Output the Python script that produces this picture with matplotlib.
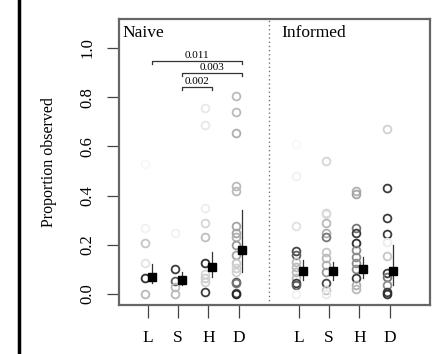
import matplotlib
matplotlib.use("Agg")
import matplotlib.pyplot as plt
from matplotlib.lines import Line2D

plt.rcParams['font.family'] = ['Liberation Serif', 'DejaVu Serif']

categories = ["L", "S", "H", "D"]
groups = ["Naive", "Informed"]

# observed proportions per individual (values) and their weights (drawn as grey darkness)
naive_vals = [
    [0.53, 0.27, 0.207, 0.126, 0.065, 0.0],
    [0.25, 0.10, 0.053, 0.03, 0.0],
    [0.756, 0.687, 0.35, 0.29, 0.23, 0.125, 0.08, 0.065, 0.05, 0.01],
    [0.805, 0.74, 0.654, 0.44, 0.42, 0.276, 0.248, 0.23, 0.2, 0.158, 0.126,
     0.105, 0.09, 0.05, 0.045, 0.005, 0.0],
]
naive_wts = [
    [0.03, 0.06, 0.25, 0.12, 0.9, 0.3],
    [0.06, 0.85, 0.7, 0.3, 0.3],
    [0.1, 0.1, 0.08, 0.18, 0.28, 0.9, 0.18, 0.22, 0.2, 0.85],
    [0.3, 0.3, 0.35, 0.3, 0.3, 0.4, 0.4, 0.35, 0.45, 0.4, 0.25,
     0.2, 0.2, 0.75, 0.6, 0.7, 0.95],
]
informed_vals = [
    [0.61, 0.48, 0.276, 0.175, 0.16, 0.13, 0.11, 0.09, 0.065, 0.045, 0.037, 0.0],
    [0.54, 0.33, 0.325, 0.29, 0.25, 0.23, 0.17, 0.145, 0.118, 0.09, 0.045, 0.016, 0.0],
    [0.42, 0.405, 0.27, 0.25, 0.207, 0.18, 0.15, 0.126, 0.1, 0.065, 0.037, 0.02],
    [0.67, 0.43, 0.31, 0.244, 0.21, 0.155, 0.085, 0.07, 0.037, 0.008, 0.0],
]
informed_wts = [
    [0.03, 0.06, 0.13, 0.8, 0.7, 0.3, 0.3, 0.3, 0.3, 0.85, 0.7, 0.06],
    [0.18, 0.2, 0.15, 0.3, 0.35, 0.6, 0.25, 0.3, 0.35, 0.45, 0.8, 0.25, 0.1],
    [0.35, 0.4, 0.6, 0.85, 0.9, 0.5, 0.5, 0.5, 0.5, 0.85, 0.35, 0.3],
    [0.2, 0.85, 0.85, 0.85, 0.08, 0.25, 0.85, 0.6, 0.5, 0.85, 0.9],
]

naive_mean = [0.07, 0.057, 0.11, 0.18]
naive_lo = [0.045, 0.037, 0.07, 0.09]
naive_hi = [0.12, 0.09, 0.17, 0.34]
informed_mean = [0.093, 0.093, 0.10, 0.093]
informed_lo = [0.057, 0.057, 0.065, 0.037]
informed_hi = [0.14, 0.13, 0.15, 0.20]

# pairwise comparisons (naive): (from category, to category, p-value label)
comparisons = [("L", "D", "0.011"), ("S", "D", "0.003"), ("S", "H", "0.002")]
bracket_levels = [0.947, 0.90, 0.84]

yticks = [0.0, 0.2, 0.4, 0.6, 0.8, 1.0]

fig = plt.figure(figsize=(4.35, 3.54), dpi=100)
ax = fig.add_axes([119/435, 1-305/354, (430-119)/435, (305-19)/354])

positions = {"Naive": [1, 2, 3, 4], "Informed": [6, 7, 8, 9]}
data = {
    "Naive": (naive_vals, naive_wts, naive_mean, naive_lo, naive_hi),
    "Informed": (informed_vals, informed_wts, informed_mean, informed_lo, informed_hi),
}
circ_off = -0.1
sq_off = 0.13

for g in groups:
    vals, wts, mean, lo, hi = data[g]
    for i, p in enumerate(positions[g]):
        for v, w in zip(vals[i], wts[i]):
            shade = 1 - 0.9 * w
            ax.plot(p + circ_off, v, 'o', ms=5.6, mfc='none',
                    mec=(shade, shade, shade), mew=1.3, zorder=2)
        ax.plot([p + sq_off, p + sq_off], [lo[i], hi[i]], color='#333333', lw=0.9, zorder=3)
        ax.plot(p + sq_off, mean[i], 's', ms=6.2, color='black', zorder=4)

# divider
ax.axvline(5, color='#777777', lw=1.0, ls=(0, (1, 2)), zorder=1)

# brackets
pos_map = dict(zip(categories, positions["Naive"]))
for (a, b, lab), yv in zip(comparisons, bracket_levels):
    x1 = pos_map[a] + sq_off
    x2 = pos_map[b] + sq_off
    ax.plot([x1, x1, x2, x2], [yv - 0.012, yv, yv, yv - 0.012], color='#333333', lw=0.9)
    ax.text((x1 + x2) / 2, yv + 0.004, lab, ha='center', va='bottom', fontsize=8)

ax.text(0.15, 1.095, "Naive", ha='left', va='top', fontsize=12.5)
ax.text(5.4, 1.095, "Informed", ha='left', va='top', fontsize=12.5)

ax.set_xlim(0.04, 10.34)
ax.set_ylim(-0.0447, 1.118)
ax.set_xticks(positions["Naive"] + positions["Informed"])
ax.set_xticklabels(categories + categories, fontsize=12.5)
ax.set_yticks(yticks)
ax.set_yticklabels([f"{t:.1f}" for t in yticks], fontsize=12, rotation=90, va='center')
ax.tick_params(axis='both', length=9, width=0.9, color='#444444')
ax.tick_params(axis='x', pad=9)
ax.tick_params(axis='y', pad=8)
for s in ax.spines.values():
    s.set_color('#666666')
    s.set_linewidth(1.6)
ax.set_ylabel("Proportion observed", fontsize=11.5, labelpad=16)

fig.add_artist(Line2D([19/435, 19/435], [0, 1], color='black', lw=2.5, transform=fig.transFigure))

fig.savefig("out.png", dpi=100)
